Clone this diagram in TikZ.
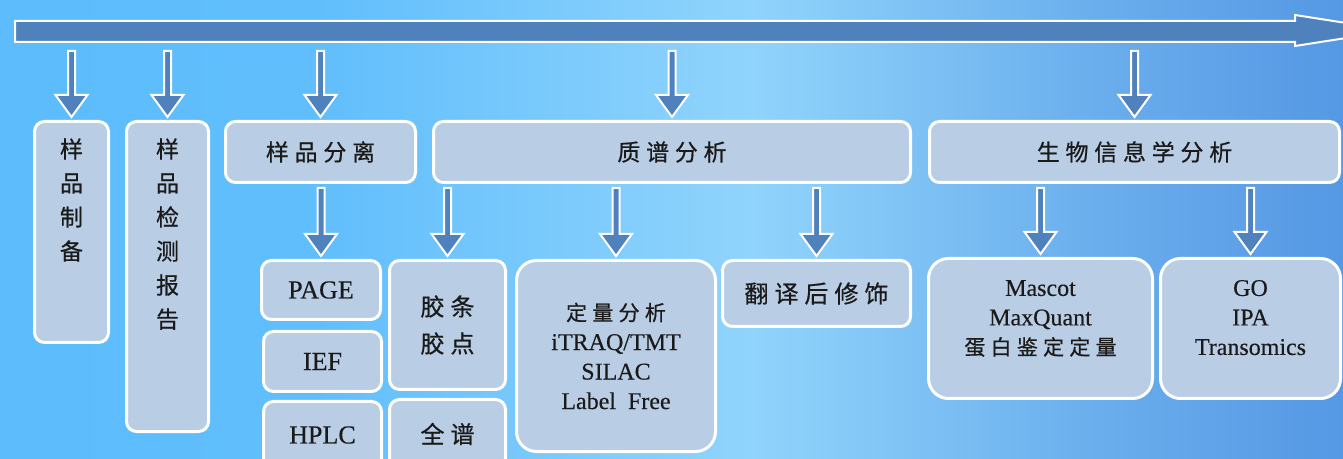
\documentclass[tikz,border=0pt]{standalone}
\usepackage{fontspec}
\setmainfont[FakeBold=0.3]{Liberation Serif}
\newfontfamily\cjk[LetterSpace=25, FakeBold=0.6]{Noto Sans CJK SC}
\usetikzlibrary{calc,positioning}

\definecolor{boxblue}{HTML}{B9CDE5}
\definecolor{arrowblue}{HTML}{4F81BD}
\definecolor{bgleft}{HTML}{5CBCFC}
\definecolor{bgmid}{HTML}{90D4FC}
\definecolor{bgright}{HTML}{5598E4}
\definecolor{textgray}{HTML}{1A1A1A}

\pgfdeclarehorizontalshading{bgshade}{100bp}{color(0bp)=(bgleft); color(25bp)=(bgleft); color(37bp)=(bgleft!90!bgmid);
  color(53bp)=(bgmid); color(65bp)=(bgright!60!bgmid); color(75bp)=(bgright); color(100bp)=(bgright)}

% block arrow: start point, end point, gap below start
\newcommand\flowarrow[3]{%
  \draw[flow] let \p1=(#1), \p2=(#2) in
    (\x2-1.75pt,\y1-#3) -- (\x2-1.75pt,\y2+12.5pt) -- (\x2-8pt,\y2+12.5pt) -- (\x2,\y2+1.5pt)
    -- (\x2+8pt,\y2+12.5pt) -- (\x2+1.75pt,\y2+12.5pt) -- (\x2+1.75pt,\y1-#3) -- cycle;}

\begin{document}
\begin{tikzpicture}[x=0.5pt, y=-0.5pt,
    box/.style={draw=white, line width=1.5pt, fill=boxblue, rounded corners=5pt, inner sep=0pt, text=textgray, align=center},
    bigbox/.style={box, rounded corners=10pt},
    title/.style={font=\fontsize{11.5}{14}\cjk},
    vtext/.style={anchor=north, yshift=-9pt, inner sep=0pt, align=center, text=textgray, font=\fontsize{11.5}{17}\cjk},
    latin/.style={font=\fontsize{13}{16}\selectfont},
    list/.style={font=\fontsize{12}{14.75}\selectfont},
    flow/.style={draw=white, line width=1pt, fill=arrowblue, line join=miter}]
    \shade[shading=bgshade] (0,0) rectangle (1343,459);
    \useasboundingbox (0,0) rectangle (1343,459);

    \draw[flow] (15,21) -- (1295,21) -- (1295,15) -- (1394,30.5) -- (1295,46) -- (1295,42) -- (15,42) -- cycle;
    \coordinate (barS) at (15,43);

    \node[box, minimum width=37pt, minimum height=110.5pt, label={[vtext]north:{样\\品\\制\\备}}] (prep) at (71.5,232) {};
    \node[box, minimum width=41pt, minimum height=155pt, label={[vtext]north:{样\\品\\检\\测\\报\\告}}] (report) at (167.5,276.5) {};
    \node[box, title, minimum width=95pt, minimum height=30.5pt] (sep) at (320.5,152) {样品分离};
    \node[box, title, minimum width=238.5pt, minimum height=30.5pt] (ms) at (672,152) {质谱分析};
    \node[box, title, minimum width=205pt, minimum height=30.5pt] (bio) at (1134.5,152) {生物信息学分析};

    \node[box, latin, minimum width=59.5pt, minimum height=29.5pt] (page) at (321,290) {PAGE};
    \node[box, latin, minimum width=59pt, minimum height=30pt] (ief) at (322.5,361.5) {IEF};
    \node[box, latin, minimum width=59pt, minimum height=33.5pt] (hplc) at (322.5,435) {HPLC};
    \node[box, font=\fontsize{12}{18.5}\cjk, minimum width=58pt, minimum height=64.5pt] (gel) at (447.5,325) {胶条\\胶点};
    \node[box, font=\fontsize{12}{14}\cjk, minimum width=58pt, minimum height=34.5pt] (full) at (447.5,434) {全谱};
    \node[bigbox, list, minimum width=99.5pt, minimum height=95.5pt] (quant) at (616,356)
        {{\cjk\fontsize{10.5}{14.75}\selectfont 定量分析}\\iTRAQ/TMT\\SILAC\\Label\enspace Free};
    \node[box, font=\fontsize{12}{14}\cjk, minimum width=94pt, minimum height=33pt] (ptm) at (816.5,293.5) {翻译后修饰};
    \node[bigbox, list, text depth=11pt, minimum width=112pt, minimum height=70pt] (soft) at (1040.5,328.5)
        {Mascot\\MaxQuant\\{\cjk\fontsize{10.5}{14.75}\selectfont 蛋白鉴定定量}};
    \node[bigbox, list, text depth=11pt, minimum width=90pt, minimum height=70pt] (func) at (1250.5,328.5)
        {GO\\IPA\\Transomics};

    \flowarrow{barS -| prep.north}{prep.north}{4pt}
    \flowarrow{barS -| report.north}{report.north}{4pt}
    \flowarrow{barS -| sep.north}{sep.north}{4pt}
    \flowarrow{barS -| ms.north}{ms.north}{4pt}
    \flowarrow{barS -| bio.north}{bio.north}{4pt}

    \flowarrow{sep.south}{page.north}{2pt}
    \flowarrow{ms.south -| gel.north}{gel.north}{2pt}
    \flowarrow{ms.south -| quant.north}{quant.north}{2pt}
    \flowarrow{ms.south -| ptm.north}{ptm.north}{2pt}
    \flowarrow{bio.south -| soft.north}{soft.north}{2pt}
    \flowarrow{bio.south -| func.north}{func.north}{2pt}
\end{tikzpicture}
\end{document}
